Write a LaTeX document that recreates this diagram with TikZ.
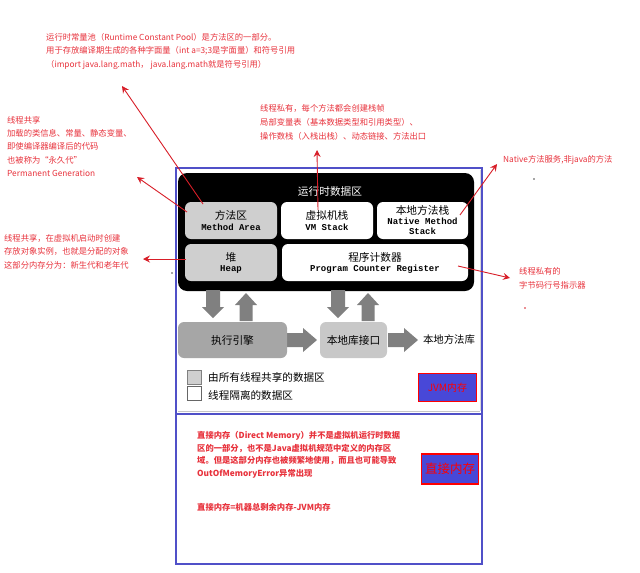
\documentclass[tikz,border=0pt]{standalone}
\usepackage{fontspec}
\setmainfont{Noto Sans CJK SC}
\newfontfamily\cjk{Noto Sans CJK SC}
\newfontfamily\monof{Liberation Mono}
\usetikzlibrary{arrows.meta}
\definecolor{annred}{HTML}{E8323C}
\definecolor{arrred}{HTML}{D81E28}
\definecolor{frameblue}{HTML}{5050C8}
\definecolor{jvmblue}{HTML}{4848D8}
\definecolor{sharegray}{HTML}{CFCFCF}
\definecolor{enginegray}{HTML}{A6A6A6}
\definecolor{libgray}{HTML}{C8C8C8}
\definecolor{arrgray}{HTML}{808080}
\tikzset{
  note/.style={anchor=north west, inner sep=0pt, align=left, text=annred, font=\fontsize{8.3}{13.5}\selectfont},
  redarr/.style={draw=arrred, line width=0.9pt, -{Stealth[length=7pt,width=7pt,inset=2.5pt]}},
  areabox/.style={rounded corners=6pt, inner sep=0pt, align=center},
  sharedbox/.style={areabox, fill=sharegray},
  privbox/.style={areabox, fill=white},
  downblk/.pic={\fill[arrgray] (-7,0) -- (7,0) -- (7,17) -- (11,17) -- (0,28) -- (-11,17) -- (-7,17) -- cycle;},
  upblk/.pic={\fill[arrgray] (0,0) -- (11,12) -- (6.5,12) -- (6.5,28) -- (-6.5,28) -- (-6.5,12) -- (-11,12) -- cycle;},
  rightblk/.pic={\fill[arrgray] (0,-7) -- (16,-7) -- (16,-12) -- (30,0) -- (16,12) -- (16,7) -- (0,7) -- cycle;},
}
\newcommand{\en}[1]{{\monof\bfseries\fontsize{9}{10}\selectfont #1}}
\newcommand{\zhlab}[1]{{\fontsize{10.7}{12}\selectfont #1}}
\begin{document}
\begin{tikzpicture}[x=1pt,y=-1pt]
\useasboundingbox (0,0) rectangle (640,573);
\fill[white] (0,0) rectangle (640,573);

% frames
\draw[gray!45, line width=1pt] (178,411) -- (480,411);
\draw[gray!30, line width=0.6pt] (480,170) -- (480,411);
\draw[frameblue, line width=1.2pt] (176,168) rectangle (482,414);
\draw[frameblue, line width=1.2pt] (176,414) rectangle (482,564);

% runtime data area
\node[fill=black, rounded corners=9pt, minimum width=296pt, minimum height=118pt, inner sep=0pt] (rda) at (326,232) {};
\node[text=white, font=\fontsize{10.7}{12}\selectfont] (rdatitle) at (330,191) {运行时数据区};

\node[sharedbox, minimum width=92pt, minimum height=37pt] (ma) at (231,220.5)
  {\zhlab{方法区}\\[-1pt]\en{Method Area}};
\node[privbox, minimum width=92pt, minimum height=37pt] (vms) at (327,220.5)
  {\zhlab{虚拟机栈}\\[-1pt]\en{VM Stack}};
\node[privbox, minimum width=91pt, minimum height=37pt] (nms) at (422.5,220.5)
  {\zhlab{本地方法栈}\\[-2pt]\en{Native Method}\\[-2pt]\en{Stack}};
\node[sharedbox, minimum width=92pt, minimum height=37pt] (heap) at (231,262.5)
  {\zhlab{堆}\\[-2pt]\en{Heap}};
\node[privbox, minimum width=186pt, minimum height=37pt] (pc) at (375,262.5)
  {\zhlab{程序计数器}\\[-2pt]\en{Program Counter Register}};

% block arrows
\pic at (213,290) {downblk};
\pic at (246,293) {upblk};
\pic at (338,290) {downblk};
\pic at (368,293) {upblk};
\pic at (287,340) {rightblk};
\pic at (388,340) {rightblk};

\node[areabox, fill=enginegray, minimum width=109pt, minimum height=36pt] (engine) at (232.5,340) {\zhlab{执行引擎}};
\node[areabox, fill=libgray, minimum width=67pt, minimum height=36pt] (nli) at (353.5,340) {\zhlab{本地库接口}};
\node[font=\fontsize{10.4}{12}\selectfont] (nlib) at (449,340) {本地方法库};

% legend
\node[draw=gray, fill=sharegray, minimum size=14pt, inner sep=0pt] (lg1) at (194.5,377.5) {};
\node[draw=gray!80!black, fill=white, minimum size=14pt, inner sep=0pt] (lg2) at (194.5,393.5) {};
\node[anchor=west, inner sep=0pt, font=\fontsize{10.6}{12}\selectfont] (lg1t) at (208,377.5) {由所有线程共享的数据区};
\node[anchor=west, inner sep=0pt, font=\fontsize{10.6}{12}\selectfont] (lg2t) at (208,395) {线程隔离的数据区};

\node[fill=jvmblue, draw=red, line width=1.3pt, minimum width=58pt, minimum height=28pt, inner sep=0pt, text=red, font=\fontsize{10}{12}\selectfont] (jvm) at (447.5,387.5) {JVM内存};

% direct memory
\node[fill=jvmblue, draw=red, line width=1.3pt, minimum width=57pt, minimum height=30pt, inner sep=0pt, text=red, font=\fontsize{12.5}{14}\selectfont] (dm) at (450,469) {直接内存};
\node[note, font=\bfseries\fontsize{8.3}{12.7}\selectfont] (dmnote) at (197,431)
  {直接内存（Direct Memory）并不是虚拟机运行时数据\\区的一部分，也不是Java虚拟机规范中定义的内存区\\域。但是这部分内存也被频繁地使用，而且也可能导致\\OutOfMemoryError异常出现};
\node[note, font=\bfseries\fontsize{8.3}{12.7}\selectfont] (dmformula) at (197,503) {直接内存=机器总剩余内存-JVM内存};

% annotations
\node[note] (cpnote) at (46,33)
  {运行时常量池（Runtime Constant Pool）是方法区的一部分。\\用于存放编译期生成的各种字面量（int a=3;3是字面量）和符号引用\\（import java.lang.math， java.lang.math就是符号引用）};
\node[note, font=\fontsize{8.3}{13.3}\selectfont] (manote) at (7,116)
  {线程共享\\加载的类信息、常量、静态变量、\\即使编译器编译后的代码\\也被称为“永久代”\\Permanent Generation};
\node[note] (heapnote) at (4,234)
  {线程共享，在虚拟机启动时创建\\存放对象实例，也就是分配的对象\\这部分内存分为：新生代和老年代};
\node[note, font=\fontsize{8.3}{14}\selectfont] (vmsnote) at (260,104)
  {线程私有，每个方法都会创建栈帧\\局部变量表（基本数据类型和引用类型）、\\操作数栈（入栈出栈）、动态链接、方法出口};
\node[note] (nmsnote) at (503,155) {Native方法服务,非java的方法};
\node[note, font=\fontsize{8.3}{14}\selectfont] (pcnote) at (519,267) {线程私有的\\字节码行号指示器};

% connector end points
\coordinate (s1) at (203,204); \coordinate (t1) at (122,86);
\coordinate (s2) at (187,212); \coordinate (t2) at (137,177);
\coordinate (s3) at (186,259); \coordinate (t3) at (143,259);
\coordinate (s4) at (318,210); \coordinate (t4) at (317,150);
\coordinate (s5) at (460,215); \coordinate (t5) at (497,164);
\coordinate (s6) at (458,266); \coordinate (t6) at (510,278);
\draw[redarr] (s1) -- (t1);
\draw[redarr] (s2) -- (t2);
\draw[redarr] (s3) -- (t3);
\draw[redarr] (s4) -- (t4);
\draw[redarr] (s5) -- (t5);
\draw[redarr] (s6) -- (t6);

% stray dots
\fill[black!70] (534,179) circle (0.9);
\fill[arrred] (525,308) circle (0.9);
\fill[black!70] (172,273) circle (0.8);
\end{tikzpicture}
\end{document}
